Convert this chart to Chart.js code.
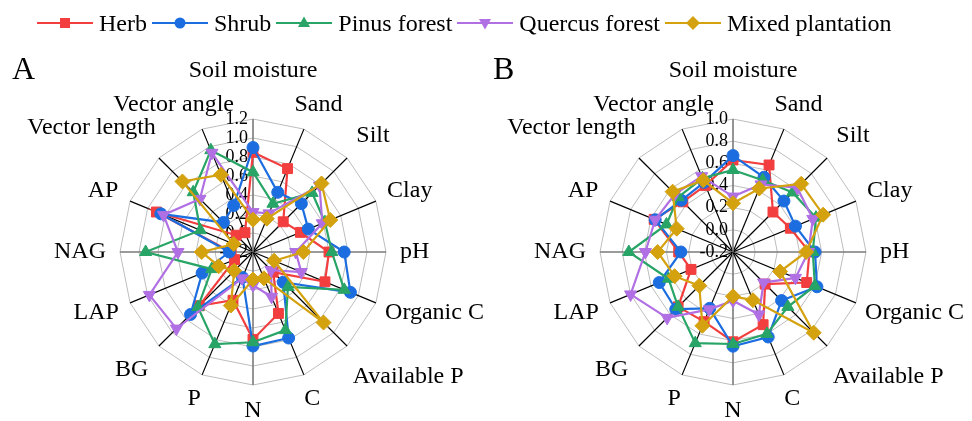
<!DOCTYPE html>
<html>
<head>
<meta charset="utf-8">
<script src="https://cdn.jsdelivr.net/npm/chart.js@4/dist/chart.umd.min.js"></script>
<style>
  body { margin: 0; background: #fff; }
  #wrap { position: relative; width: 972px; height: 421px; font-family: "Liberation Serif", "Times New Roman", serif; color: #000; }
  #wrap canvas { position: absolute; top: 0; }
  #chartA { left: 0; }
  #chartB { left: 486px; }
  .panel { position: absolute; top: 52px; font-size: 32px; line-height: 32px; }
  #legend { position: absolute; left: 37px; top: 11px; height: 24px; display: flex; align-items: center; font-size: 24px; line-height: 24px; white-space: nowrap; }
  #legend .item { display: flex; align-items: center; margin-right: 5px; }
  #legend svg { margin-right: 6px; }
</style>
</head>
<body>
<div id="wrap">
  <canvas id="chartA" width="486" height="421"></canvas>
  <canvas id="chartB" width="486" height="421"></canvas>
  <div class="panel" style="left:12px">A</div>
  <div class="panel" style="left:493px">B</div>
  <div id="legend"></div>
</div>
<script>
const axisNames = ['Soil moisture', 'Sand', 'Silt', 'Clay', 'pH', 'Organic C', 'Available P', 'C', 'N', 'P', 'BG', 'LAP', 'NAG', 'AP', 'Vector length', 'Vector angle'];
const seriesNames = ['Herb', 'Shrub', 'Pinus forest', 'Quercus forest', 'Mixed plantation'];

// panel A
const herbA    = [0.85, 0.75, 0.25, 0.34, 0.60, 0.62, 0.10, 0.50, 0.72, 0.35, 0.60, 0.01, 0.03, 0.90, 0.05, 0.02];
const shrubA   = [0.90, 0.48, 0.52, 0.43, 0.76, 0.91, 0.25, 0.78, 0.79, 0.09, 0.73, 0.38, 0.05, 0.85, 0.24, 0.33];
const pinusA   = [0.64, 0.35, 0.68, 0.62, 0.63, 0.84, 0.32, 0.69, 0.75, 0.85, 0.62, 0.27, 0.93, 0.40, 0.69, 0.96];
const quercusA = [0.22, 0.24, 0.79, 0.59, 0.25, 0.35, 0.07, 0.31, 0.15, 0.10, 0.94, 0.98, 0.59, 0.82, 0.59, 0.93];
const mixedA   = [0.14, 0.18, 0.82, 0.68, 0.33, 0.04, 0.85, 0.10, 0.09, 0.41, 0.08, 0.19, 0.34, 0.02, 0.85, 0.68];
const ticksA = [-0.2, 0, 0.2, 0.4, 0.6, 0.8, 1.0, 1.2];

// panel B
const herbB    = [0.63, 0.65, 0.31, 0.36, 0.49, 0.52, 0.21, 0.51, 0.61, 0.48, 0.50, 0.21, 0.29, 0.57, 0.44, 0.45];
const shrubB   = [0.67, 0.53, 0.45, 0.41, 0.54, 0.62, 0.42, 0.63, 0.65, 0.35, 0.53, 0.52, 0.27, 0.56, 0.46, 0.48];
const pinusB   = [0.54, 0.50, 0.56, 0.61, 0.52, 0.60, 0.50, 0.60, 0.63, 0.69, 0.50, 0.43, 0.74, 0.45, 0.50, 0.52];
const quercusB = [0.30, 0.46, 0.62, 0.58, 0.48, 0.41, 0.19, 0.41, 0.24, 0.36, 0.64, 0.80, 0.59, 0.56, 0.54, 0.54];
const mixedB   = [0.24, 0.42, 0.67, 0.68, 0.46, 0.26, 0.83, 0.27, 0.20, 0.52, 0.23, 0.37, 0.48, 0.35, 0.57, 0.50];
const ticksB = [-0.2, 0, 0.2, 0.4, 0.6, 0.8, 1.0];

const colors = ['#f23e3e', '#1c6ee0', '#27a466', '#b06fe3', '#d4a10f'];
const markers = ['rect', 'circle', 'triangle', 'triangle', 'rectRot'];
const markerRot = [0, 0, 0, 180, 0];
const markerSize = [7, 6, 7, 7, 7.5];
// extra room some axis names get beyond the outer ring
const labelNudge = [22, 0, 6, 0, 0, 0, 17, 0, 0, 0, 8, 0, 0, 0, 17, 0];

const radarText = {
    id: 'radarText',
    beforeDatasetsDraw(chart, args, opts) {
        const r = chart.scales.r;
        const ctx = chart.ctx;
        ctx.save();
        ctx.fillStyle = '#000';
        ctx.font = '18px "Liberation Serif"';
        ctx.textAlign = 'right';
        ctx.textBaseline = 'middle';
        opts.ticks.forEach(v => {
            ctx.fillText(v.toFixed(1), r.xCenter - 5, r.yCenter - r.getDistanceFromCenterForValue(v));
        });
        ctx.font = '24px "Liberation Serif"';
        ctx.textAlign = 'center';
        axisNames.forEach((name, i) => {
            const a = r.getIndexAngle(i);
            const p = r.getPointPosition(i, r.drawingArea + 14 + labelNudge[i]);
            const w = ctx.measureText(name).width;
            ctx.fillText(name, p.x + Math.sin(a) * w / 2, p.y - Math.cos(a) * 12);
        });
        ctx.restore();
    }
};

function makeRadar(id, series, ticks, padding) {
    return new Chart(document.getElementById(id), {
        type: 'radar',
        data: {
            labels: axisNames,
            datasets: series.map((d, i) => ({
                label: seriesNames[i],
                data: d,
                order: 4 - i,
                borderColor: colors[i],
                backgroundColor: colors[i],
                borderWidth: 2.2,
                fill: false,
                pointStyle: markers[i],
                rotation: markerRot[i],
                pointRadius: markerSize[i],
                pointBorderWidth: 1,
                pointBackgroundColor: colors[i],
                pointBorderColor: colors[i],
            }))
        },
        options: {
            responsive: false,
            animation: false,
            events: [],
            layout: { padding: padding },
            plugins: {
                legend: { display: false },
                tooltip: { enabled: false },
                radarText: { ticks: ticks }
            },
            scales: {
                r: {
                    min: ticks[0],
                    max: ticks[ticks.length - 1],
                    ticks: { display: false, stepSize: 0.2 },
                    pointLabels: { display: false },
                    grid: { color: '#bdbdbd', lineWidth: 1 },
                    angleLines: {
                        color: c => c.index % 4 === 0 ? '#7a7a7a' : '#000',
                        lineWidth: c => c.index % 4 === 0 ? 1.6 : 1.2
                    }
                }
            }
        },
        plugins: [radarText]
    });
}

makeRadar('chartA', [herbA, shrubA, pinusA, quercusA, mixedA], ticksA, { left: 120, right: 100, top: 119, bottom: 36 });
makeRadar('chartB', [herbB, shrubB, pinusB, quercusB, mixedB], ticksB, { left: 114, right: 106, top: 119, bottom: 36 });

// legend: line - marker - line, then the name
const shapes = [
    c => `<rect x="23" y="7" width="10" height="10" fill="${c}"/>`,
    c => `<circle cx="28" cy="12" r="5.5" fill="${c}"/>`,
    c => `<polygon points="28,5.5 34,16 22,16" fill="${c}"/>`,
    c => `<polygon points="28,18.5 34,8 22,8" fill="${c}"/>`,
    c => `<polygon points="28,5 35,12 28,19 21,12" fill="${c}"/>`
];
const legend = document.getElementById('legend');
seriesNames.forEach((name, i) => {
    const item = document.createElement('div');
    item.className = 'item';
    item.innerHTML = `<svg width="56" height="24"><line x1="0" y1="12" x2="56" y2="12" stroke="${colors[i]}" stroke-width="2"/>${shapes[i](colors[i])}</svg><span>${name}</span>`;
    legend.appendChild(item);
});
</script>
</body>
</html>
